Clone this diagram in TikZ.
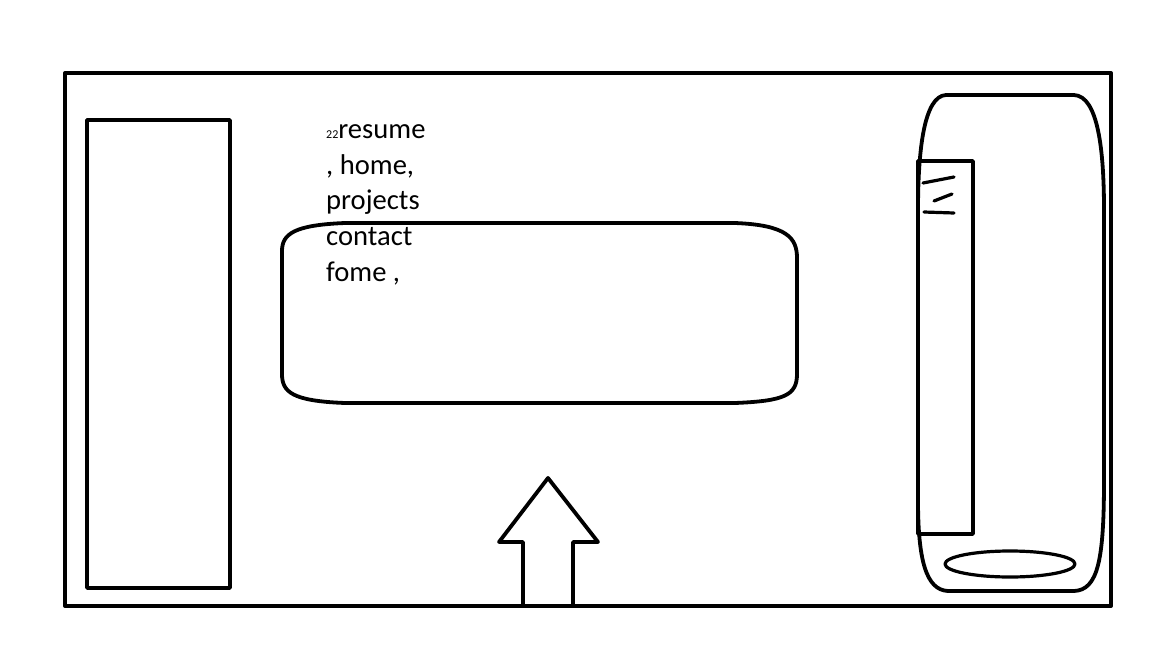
\documentclass[tikz,border=0pt]{standalone}
\usepackage{fontspec}
\setmainfont{Carlito}
\begin{document}
\begin{tikzpicture}[x=1pt,y=-1pt,
  ink/.style={draw=black,line width=3.8pt,line join=round},
  thin ink/.style={draw=black,line width=3.2pt,line cap=round},
  menu/.style={anchor=base west,inner sep=0pt,font=\fontsize{28.6}{34}\selectfont}]
\useasboundingbox[fill=white] (0,0) rectangle (1152,648);

% page frame
\draw[ink,line width=4pt] (65,73) rectangle (1111,606);

% left sidebar
\draw[ink] (87,120) rectangle (230,588);

% central rounded panel
\draw[ink] (345,223) -- (735,223)
  .. controls (787,225) and (797,238) .. (797,258) -- (797,374)
  .. controls (797,395) and (785,401) .. (735,403) -- (345,403)
  .. controls (292,401) and (282,392) .. (282,374) -- (282,251)
  .. controls (282,234) and (294,225) .. (345,223) -- cycle;

% menu text
\node[menu] (t1) at (326,138) {{\fontsize{12}{12}\selectfont 22}resume};
\node[menu] (t2) at (326,174) {, home,};
\node[menu] (t3) at (326,209) {projects};
\node[menu] (t4) at (326,245) {contact};
\node[menu] (t5) at (326,281) {fome ,};

% upward arrow
\draw[ink] (523,604) -- (523,542) -- (499,542) -- (548,478) -- (598,542)
  -- (573,542) -- (573,604);

% right capsule
\draw[ink] (946,95) -- (1074,95)
  .. controls (1098,96) and (1104,150) .. (1104,210) -- (1104,480)
  .. controls (1104,560) and (1098,590) .. (1074,591) -- (948,591)
  .. controls (926,590) and (918,560) .. (918,500) -- (918,210)
  .. controls (918,150) and (924,96) .. (946,95) -- cycle;

% inner strip of the capsule
\draw[ink] (918,161) rectangle (973,534);
\draw[thin ink] (923,183) -- (954,177);
\draw[thin ink] (934,201) -- (952,194);
\draw[thin ink] (924,212) -- (954,213);

% oval at the bottom of the capsule
\draw[ink,line width=3.2pt] (1010,564) ellipse [x radius=65,y radius=13];
\end{tikzpicture}
\end{document}
